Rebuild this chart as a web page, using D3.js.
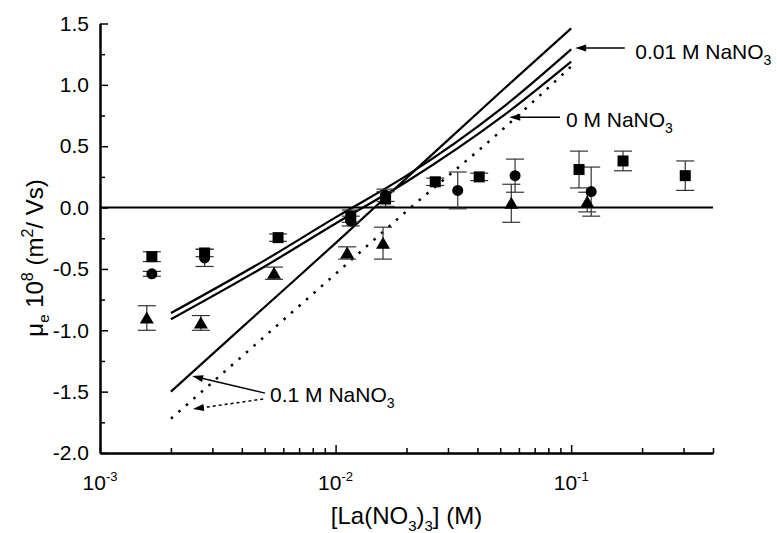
<!DOCTYPE html>
<html>
<head>
<meta charset="utf-8">
<script src="https://cdn.jsdelivr.net/npm/d3@7"></script>
<style>
  body { margin: 0; background: #fff; }
  svg { font-family: "Liberation Sans", Arial, sans-serif; }
</style>
</head>
<body>
<svg id="chart"></svg>
<script>
// Squares
const sqX = [0.00166, 0.00278, 0.0057, 0.0116, 0.0163, 0.0265, 0.0407, 0.108, 0.166, 0.305];
const sqY = [-0.40, -0.37, -0.245, -0.07, 0.07, 0.21, 0.25, 0.31, 0.38, 0.26];
const sqErr = [0.04, 0.03, 0.03, 0.05, 0.06, 0.03, 0.03, 0.15, 0.08, 0.12];

// Circles
const ciX = [0.00166, 0.00278, 0.0116, 0.0163, 0.033, 0.0578, 0.1216];
const ciY = [-0.54, -0.41, -0.11, 0.10, 0.14, 0.26, 0.13];
const ciErr = [0.02, 0.07, 0.04, 0.05, 0.15, 0.135, 0.20];

// Triangles
const trX = [0.00158, 0.00268, 0.00548, 0.0112, 0.0159, 0.0557, 0.117];
const trY = [-0.90, -0.94, -0.535, -0.37, -0.29, 0.035, 0.045];
const trErr = [0.10, 0.06, 0.05, 0.05, 0.13, 0.155, 0.08];

// Model curves
const curveX = [0.002, 0.005, 0.01, 0.02, 0.05, 0.1];
const curveSteep = [-1.50, -0.81, -0.29, 0.24, 0.94, 1.46];   // 0.1 M NaNO3 (solid)
const curve001 = [-0.86, -0.43, -0.08, 0.26, 0.80, 1.29];     // 0.01 M NaNO3
const curve0 = [-0.91, -0.48, -0.13, 0.21, 0.73, 1.19];       // 0 M NaNO3
const curveDot = [-1.72, -1.05, -0.54, -0.03, 0.62, 1.15];    // 0.1 M NaNO3 (dotted)

// Axis ticks
const yMajor = [-2.0, -1.5, -1.0, -0.5, 0.0, 0.5, 1.0, 1.5];
const yMinor = [-1.75, -1.25, -0.75, -0.25, 0.25, 0.75, 1.25];
const xMajor = [0.001, 0.01, 0.1];
const xMajorExp = ["-3", "-2", "-1"];
const xMinor = [0.002, 0.003, 0.004, 0.005, 0.006, 0.007, 0.008, 0.009,
                0.02, 0.03, 0.04, 0.05, 0.06, 0.07, 0.08, 0.09,
                0.2, 0.3, 0.4];

const W = 777, H = 533;
const margin = { top: 23.5, right: 64, bottom: 80, left: 100 };
const width = W - margin.left - margin.right;
const height = H - margin.top - margin.bottom;

const svg = d3.select("#chart").attr("width", W).attr("height", H);
const g = svg.append("g").attr("transform", `translate(${margin.left},${margin.top})`);

const x = d3.scaleLog().domain([0.001, 0.4]).range([0, width]);
const y = d3.scaleLinear().domain([-2, 1.5]).range([height, 0]);

// x axis (ticks pointing inward)
const xAxisG = g.append("g").attr("transform", `translate(0,${height})`);
xAxisG.append("g").call(d3.axisBottom(x).tickValues(xMinor).tickSize(-5).tickSizeOuter(0).tickFormat(""));
xAxisG.append("g").call(d3.axisBottom(x).tickValues(xMajor).tickSize(-8).tickSizeOuter(0).tickFormat(""));
xAxisG.selectAll("path.domain").attr("stroke-width", 2);
xAxisG.selectAll(".tick line").attr("stroke-width", 1.5);

xMajor.forEach((v, i) => {
  const t = xAxisG.append("text")
    .attr("x", x(v)).attr("y", 37)
    .attr("text-anchor", "middle")
    .attr("font-size", 21)
    .attr("fill", "#000");
  t.append("tspan").text("10");
  t.append("tspan").attr("dy", -9).attr("font-size", 13).text(xMajorExp[i]);
});

// y axis
const yAxisG = g.append("g");
yAxisG.append("g").call(d3.axisLeft(y).tickValues(yMinor).tickSize(-5).tickSizeOuter(0).tickFormat(""));
yAxisG.append("g").call(d3.axisLeft(y).tickValues(yMajor).tickSize(-8).tickSizeOuter(0)
  .tickPadding(11).tickFormat(d => d.toFixed(1)));
yAxisG.selectAll("path.domain").attr("stroke-width", 2);
yAxisG.selectAll(".tick line").attr("stroke-width", 1.5);
yAxisG.selectAll(".tick text").attr("font-size", 21).attr("font-family", "Liberation Sans, Arial, sans-serif");

// zero line
g.append("line")
  .attr("x1", 0).attr("x2", width)
  .attr("y1", y(0)).attr("y2", y(0))
  .attr("stroke", "#000").attr("stroke-width", 2);

// model curves
const line = d3.line().x(d => x(d[0])).y(d => y(d[1])).curve(d3.curveMonotoneX);
[curveSteep, curve001, curve0].forEach(c => {
  g.append("path")
    .attr("d", line(curveX.map((v, i) => [v, c[i]])))
    .attr("fill", "none").attr("stroke", "#000").attr("stroke-width", 2.2);
});
g.append("path")
  .attr("d", line(curveX.map((v, i) => [v, curveDot[i]])))
  .attr("fill", "none").attr("stroke", "#000").attr("stroke-width", 2.5)
  .attr("stroke-dasharray", "2.5,7.5");

// error bars + symbols
function errorBars(xs, ys, es) {
  const eg = g.append("g").attr("stroke", "#333").attr("stroke-width", 1.2);
  xs.forEach((v, i) => {
    const cx = x(v), top = y(ys[i] + es[i]), bot = y(ys[i] - es[i]);
    eg.append("line").attr("x1", cx).attr("x2", cx).attr("y1", top).attr("y2", bot);
    eg.append("line").attr("x1", cx - 9).attr("x2", cx + 9).attr("y1", top).attr("y2", top);
    eg.append("line").attr("x1", cx - 9).attr("x2", cx + 9).attr("y1", bot).attr("y2", bot);
  });
}
errorBars(trX, trY, trErr);
errorBars(ciX, ciY, ciErr);
errorBars(sqX, sqY, sqErr);

g.selectAll("path.tri").data(trX).enter().append("path")
  .attr("class", "tri")
  .attr("d", "M0,-6.5 L7,5.5 L-7,5.5 Z")
  .attr("transform", (d, i) => `translate(${x(d)},${y(trY[i])})`)
  .attr("fill", "#000");

g.selectAll("circle.ci").data(ciX).enter().append("circle")
  .attr("class", "ci")
  .attr("cx", d => x(d)).attr("cy", (d, i) => y(ciY[i]))
  .attr("r", 5.5).attr("fill", "#000");

g.selectAll("rect.sq").data(sqX).enter().append("rect")
  .attr("class", "sq")
  .attr("x", d => x(d) - 5.5).attr("y", (d, i) => y(sqY[i]) - 5.5)
  .attr("width", 11).attr("height", 11).attr("fill", "#000");

// annotations
function label(xv, yv, main) {
  const t = g.append("text").attr("x", x(xv)).attr("y", y(yv))
    .attr("font-size", 21).attr("fill", "#000");
  t.append("tspan").text(main);
  t.append("tspan").attr("dy", 6).attr("font-size", 14).text("3");
}

// line stops short of the tip, head drawn at the tip
const headPad = 10;
function arrowTo(tailX, tailY, tipX, tipY, dashed) {
  const ax = x(tailX), ay = y(tailY), bx = x(tipX), by = y(tipY);
  const len = Math.hypot(bx - ax, by - ay);
  const ex = bx + (ax - bx) * headPad / len, ey = by + (ay - by) * headPad / len;
  const l = g.append("line")
    .attr("x1", ax).attr("y1", ay).attr("x2", ex).attr("y2", ey)
    .attr("stroke", "#000").attr("stroke-width", 1.5);
  if (dashed) l.attr("stroke-dasharray", "3,3");
  const ang = Math.atan2(by - ay, bx - ax) * 180 / Math.PI;
  g.append("path").attr("d", "M0,0 L-11,-3.5 L-11,3.5 Z")
    .attr("transform", `translate(${bx},${by}) rotate(${ang})`)
    .attr("fill", "#000");
}

arrowTo(0.169, 1.30, 0.104, 1.30, false);
label(0.187, 1.21, "0.01 M NaNO");
arrowTo(0.0897, 0.737, 0.0546, 0.737, false);
label(0.095, 0.656, "0 M NaNO");
arrowTo(0.00502, -1.512, 0.00246, -1.373, false);
arrowTo(0.00493, -1.56, 0.00248, -1.642, true);
label(0.00527, -1.585, "0.1 M NaNO");

// axis titles
const xt = svg.append("text")
  .attr("x", margin.left + width / 2).attr("y", 524)
  .attr("text-anchor", "middle").attr("font-size", 24);
xt.append("tspan").text("[La(NO");
xt.append("tspan").attr("dy", 7).attr("font-size", 15).text("3");
xt.append("tspan").attr("dy", -7).text(")");
xt.append("tspan").attr("dy", 7).attr("font-size", 15).text("3");
xt.append("tspan").attr("dy", -7).text("] (M)");

const yt = svg.append("text")
  .attr("transform", "translate(43,258) rotate(-90)")
  .attr("text-anchor", "middle").attr("font-size", 24);
yt.append("tspan").text("μ");
yt.append("tspan").attr("dy", 6).attr("font-size", 15).text("e");
yt.append("tspan").attr("dy", -6).text(" 10");
yt.append("tspan").attr("dy", -10).attr("font-size", 16).text("8");
yt.append("tspan").attr("dy", 10).text(" (m");
yt.append("tspan").attr("dy", -10).attr("font-size", 16).text("2");
yt.append("tspan").attr("dy", 10).text("/ Vs)");
</script>
</body>
</html>
